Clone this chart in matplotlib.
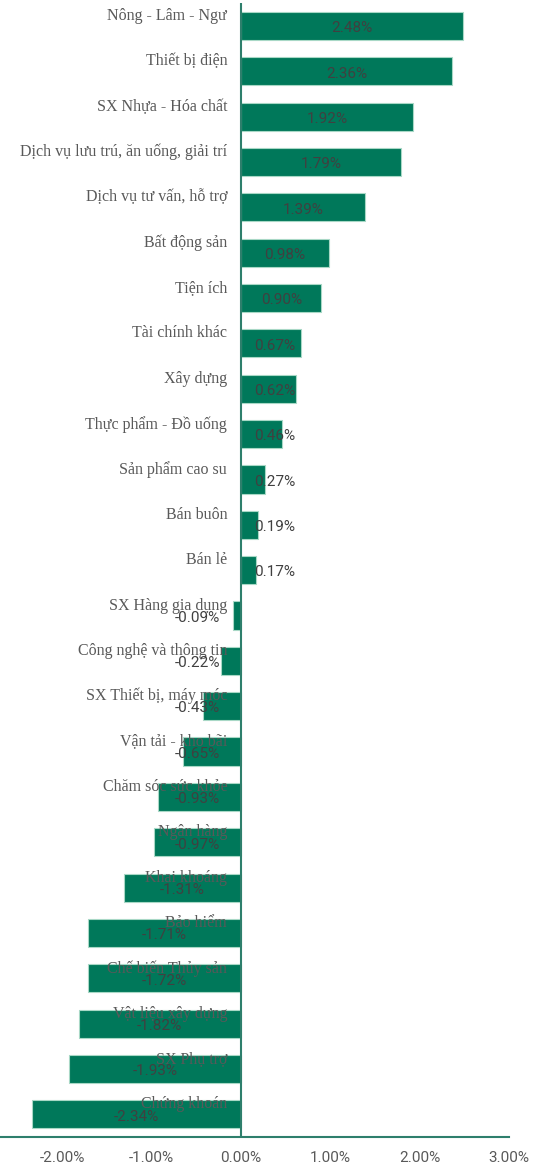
import matplotlib.pyplot as plt
import numpy as np

sectors = ["Nông - Lâm - Ngư", "Thiết bị điện", "SX Nhựa - Hóa chất",
           "Dịch vụ lưu trú, ăn uống, giải trí", "Dịch vụ tư vấn, hỗ trợ",
           "Bất động sản", "Tiện ích", "Tài chính khác", "Xây dựng",
           "Thực phẩm - Đồ uống", "Sản phẩm cao su", "Bán buôn", "Bán lẻ",
           "SX Hàng gia dụng", "Công nghệ và thông tin", "SX Thiết bị, máy móc",
           "Vận tải - kho bãi", "Chăm sóc sức khỏe", "Ngân hàng", "Khai khoáng",
           "Bảo hiểm", "Chế biến Thủy sản", "Vật liệu xây dựng", "SX Phụ trợ",
           "Chứng khoán"]
changes = [2.48, 2.36, 1.92, 1.79, 1.39, 0.98, 0.90, 0.67, 0.62, 0.46, 0.27,
           0.19, 0.17, -0.09, -0.22, -0.43, -0.65, -0.93, -0.97, -1.31, -1.71,
           -1.72, -1.82, -1.93, -2.34]
xticks = [-2, -1, 0, 1, 2, 3]

green = "#00785a"
line_col = "#2e7f6c"
num_font = ["Roboto", "DejaVu Sans"]
name_font = ["Liberation Serif", "DejaVu Serif"]

fig = plt.figure(figsize=(5.53, 11.7), dpi=100)
ax = fig.add_axes([0, 0.0282, 0.9204, 0.969])

y = np.arange(len(sectors))
ax.barh(y, changes, height=0.62, color=green, edgecolor="#a8d8c6", linewidth=0.8, zorder=2)

for i, (name, v) in enumerate(zip(sectors, changes)):
    ax.text(-0.156, i - 0.22, name, ha="right", va="center", fontsize=11.5,
            family=name_font, color="#595959", zorder=3)
    if v >= 0:
        cx = max(v / 2, 0.38)
    else:
        cx = min(v / 2, -0.49)
    ax.text(cx, i + 0.05, f"{v:.2f}%", ha="center", va="center", fontsize=11,
            family=num_font, color="#404040", zorder=4)

ax.axvline(0, color=line_col, linewidth=1.5, zorder=3)
ax.set_xlim(-2.7, 3.0)
ax.set_ylim(len(sectors) - 0.5, -0.5)
ax.set_xticks(xticks)
ax.set_xticklabels([f"{t:.2f}%" for t in xticks], family=num_font, fontsize=11, color="#595959")
ax.set_yticks([])
ax.tick_params(axis="x", length=0, pad=10)
for s in ["top", "right", "left"]:
    ax.spines[s].set_visible(False)
ax.spines["bottom"].set_color(line_col)
ax.spines["bottom"].set_linewidth(1.5)

fig.savefig("out.png", dpi=100)
